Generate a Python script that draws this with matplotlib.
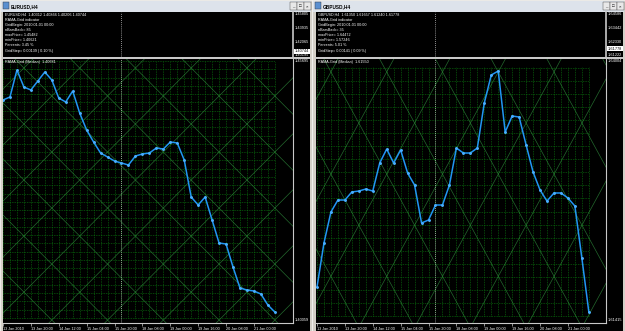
import numpy as np
import matplotlib.pyplot as plt
from matplotlib.patches import Rectangle

W, H = 625, 331

# RAMA-Grid (Median) values, one per H4 bar
eur_rama = [1.44820, 1.44884, 1.45460, 1.45097, 1.45033, 1.45225, 1.45417, 1.45247,
            1.44862, 1.44777, 1.45012, 1.44542, 1.44179, 1.43923, 1.43688, 1.43603,
            1.43517, 1.43475, 1.43432, 1.43624, 1.43667, 1.43688, 1.43795, 1.43773,
            1.43923, 1.43902, 1.43539, 1.42749, 1.42578, 1.42749, 1.42258, 1.41767,
            1.41745, 1.41254, 1.40806, 1.40763, 1.40742, 1.40678, 1.40443, 1.40293]
gbp_rama = [1.61768, 1.62200, 1.62504, 1.62621, 1.62621, 1.62700, 1.62709, 1.62729,
            1.62709, 1.62984, 1.63121, 1.62984, 1.63112, 1.62886, 1.62768, 1.62396,
            1.62425, 1.62572, 1.62572, 1.62768, 1.63131, 1.63082, 1.63082, 1.63131,
            1.63572, 1.63847, 1.63886, 1.63288, 1.63445, 1.63435, 1.63161, 1.62896,
            1.62719, 1.62611, 1.62690, 1.62690, 1.62641, 1.62562, 1.62052, 1.61523]

time_labels = ["13 Jan 2010", "13 Jan 20:00", "14 Jan 12:00", "15 Jan 04:00", "15 Jan 20:00",
               "18 Jan 08:00", "19 Jan 00:00", "19 Jan 16:00", "20 Jan 08:00", "21 Jan 00:00"]
label_bars = [0, 4, 8, 12, 16, 20, 24, 28, 32, 36]

eur_info = ["EURUSD,H4  1.40312 1.40866 1.40206 1.40744", "RAMA-Grid indicator",
            "GridBegin: 2010.01.01 00:00", "nBarsBack= 85", "maxPrice= 1.45482",
            "minPrice= 1.40621", "Percents: 3.45 %", "GridStep= 0.00139 ( 0.10 %)"]
gbp_info = ["GBPUSD,H4  1.61350 1.61657 1.61240 1.61778", "RAMA-Grid indicator",
            "GridBegin: 2010.01.01 00:00", "nBarsBack= 35", "maxPrice= 1.64472",
            "minPrice= 1.57246", "Percents: 5.01 %", "GridStep= 0.00141 ( 0.09 %)"]

eur_upper_prices = ["1.45805", "1.43935", "1.42065", "1.40195"]
gbp_upper_prices = ["1.64586", "1.63442", "1.62330", "1.61222"]

plt.rcParams['font.family'] = ['Liberation Sans', 'DejaVu Sans']
fig = plt.figure(figsize=(W / 100, H / 100), dpi=100)
fig.patch.set_facecolor('#d4d0c8')


def px_ax(x0, y0, x1, y1):
    return fig.add_axes([x0 / W, 1 - y1 / H, (x1 - x0) / W, (y1 - y0) / H])


def ftext(x, y, s, **kw):
    return fig.text(x / W, 1 - y / H, s, **kw)


def frect(x0, y0, x1, y1, fc, ec='none', lw=0, z=-1):
    fig.patches.append(Rectangle((x0 / W, 1 - y1 / H), (x1 - x0) / W, (y1 - y0) / H,
                                 transform=fig.transFigure, facecolor=fc, edgecolor=ec,
                                 lw=lw, zorder=z))


def draw_window(wx0, wx1, cx0, cx1, px1, title, info, upper_prices, box_price, box_y,
                lo_top, lo_bot, rama, x_first, grid_lo, grid_hi, grid_step,
                slope, c_up, c_dn, period, rama_label):
    # window chrome
    frect(wx0, 0, wx1, H, '#d4d0c8', '#ffffff', 0.4)
    frect(wx0 + 1, 0.5, wx1 - 1, 11.5, '#dde3eb')
    frect(wx0 + 3, 2.5, wx0 + 9, 9, '#5a8fd0', '#303030', 0.3, z=2)
    ftext(wx0 + 11, 6.3, title, fontsize=3.4, color='black', va='center', fontweight='bold')
    for bx, g in zip([wx1 - 22, wx1 - 15, wx1 - 8], ['_', '\u25a1', '\u00d7']):
        frect(bx, 2.5, bx + 6.5, 9.5, '#e8e8e8', '#404040', 0.3, z=2)
        ftext(bx + 3.3, 6.2, g, fontsize=3.2, color='black', ha='center', va='center')
    frect(cx0, 12, px1, H, 'black', z=-0.5)

    bars = np.arange(len(rama))
    xl = ((cx0 - x_first) / 6.97, (cx1 - x_first) / 6.97)

    # upper pane
    up = px_ax(cx0, 12, cx1, 57.5)
    up.set_facecolor('black')
    up.set_xlim(*xl)
    up.set_ylim(0, 1)
    up.set_xticks([])
    up.set_yticks([])
    for sp in ['top', 'left']:
        up.spines[sp].set_visible(False)
    for sp in ['bottom', 'right']:
        up.spines[sp].set_color('#c8c8c8')
        up.spines[sp].set_linewidth(1.2)
    up.axvline(17, color='#c0c0c0', ls=(0, (1, 1.5)), lw=0.6)
    for k, s in enumerate(info):
        ftext(cx0 + 2, 14.8 + 5.0 * k + (1.5 if k == 7 else 0), s, fontsize=2.7,
              color='white', va='center')
    for s, y in zip(upper_prices, [14, 28, 42, 55]):
        ftext(cx1 + 2, y, s, fontsize=2.8, color='white', va='center')
    ftext(cx1 + 2, box_y, box_price, fontsize=2.8, color='black', va='center',
          bbox=dict(facecolor='white', edgecolor='none', pad=0.4))

    # lower pane
    ax = px_ax(cx0, 59, cx1, 323)
    ax.set_facecolor('black')
    ax.set_xlim(*xl)
    ax.set_ylim(lo_bot, lo_top)
    ax.set_yticks([])
    for sp in ['top', 'left']:
        ax.spines[sp].set_visible(False)
    for sp in ['bottom', 'right']:
        ax.spines[sp].set_color('#c8c8c8')
        ax.spines[sp].set_linewidth(0.8)

    grid_col = '#0a6e0e'
    levels = np.arange(grid_lo, grid_hi + grid_step * 0.5, grid_step)
    ax.vlines(bars, grid_lo, grid_hi, colors=grid_col, linestyles=(0, (1, 1.2)), lw=0.55)
    ax.hlines(levels, 0, bars[-1], colors=grid_col, linestyles=(0, (1, 1.2)), lw=0.55)

    xs = np.array([-2, 45])
    for k in range(-14, 14):
        ax.plot(xs, c_up + k * period + slope * xs, color='#2f8a3c', lw=0.5, alpha=0.75)
        ax.plot(xs, c_dn + k * period - slope * xs, color='#2f8a3c', lw=0.5, alpha=0.75)

    ax.axvline(17, color='#c0c0c0', ls=(0, (1, 1.5)), lw=0.6)
    ax.plot(bars, rama, color='#2196f3', lw=1.1, marker='o', ms=1.1, mec='#4aaeff',
            mfc='#4aaeff', solid_joinstyle='miter')

    ax.set_xticks(label_bars)
    ax.set_xticklabels(time_labels)
    ax.tick_params(axis='x', direction='out', length=2, width=0.5, color='#c8c8c8',
                   labelsize=2.7, labelcolor='white', pad=0.8)
    for t in ax.get_xticklabels():
        t.set_horizontalalignment('left')

    ftext(cx0 + 2, 62, rama_label, fontsize=2.7, color='white', va='center')
    ftext(cx1 + 2, 61, f"{lo_top:.5f}", fontsize=2.8, color='white', va='center')
    ftext(cx1 + 2, 320, f"{lo_bot:.5f}", fontsize=2.8, color='white', va='center')
    frect(cx0, 57.5, px1, 59, '#c8c8c8', z=3)


draw_window(0, 312, 3, 293, 309.5, "EURUSD,H4", eur_info, eur_upper_prices,
            "1.40744", 51.5, 1.45695, 1.40059, eur_rama, 3,
            1.40166, 1.45631, 0.00177, 0.001495, 1.438585, 1.459515, 0.01196,
            "RAMA-Grid (Median)  1.40681")
draw_window(312, 625, 316, 606, 623, "GBPUSD,H4", gbp_info, gbp_upper_prices,
            "1.61778", 48.5, 1.64004, 1.61415, gbp_rama, 317,
            1.61484, 1.63926, 0.00128, 0.001252, 1.626248, 1.641272, 0.01002,
            "RAMA-Grid (Median)  1.61550")

fig.savefig("out.png", dpi=100, facecolor=fig.get_facecolor())
